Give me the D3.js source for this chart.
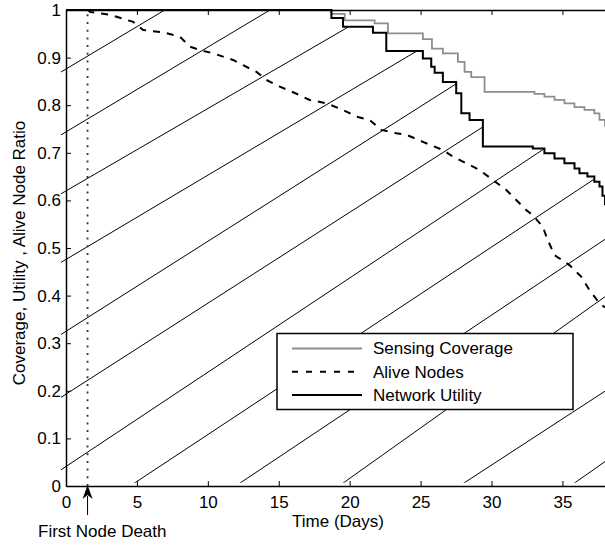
<!DOCTYPE html>
<html>
<head>
<meta charset="utf-8">
<script src="https://cdn.jsdelivr.net/npm/d3@7"></script>
<style>
  body { margin: 0; background: #fff; }
  svg { display: block; font-family: "Liberation Sans", Arial, Helvetica, sans-serif; }
</style>
</head>
<body>
<svg id="chart"></svg>
<script>
// Data (days, ratio)
const sensingDays   = [0, 18.71, 19.65, 21.76, 22.70, 25.16, 25.80, 26.57, 27.63, 28.10, 28.57, 29.51, 33.03, 33.73, 34.44, 35.14, 35.85, 36.55, 37.25, 37.61, 38];
const sensingValues = [1, 0.992, 0.978, 0.972, 0.951, 0.939, 0.919, 0.909, 0.891, 0.870, 0.859, 0.828, 0.824, 0.818, 0.811, 0.804, 0.796, 0.790, 0.783, 0.769, 0.755];

const utilityDays   = [0, 18.71, 19.53, 21.64, 22.58, 25.16, 25.75, 25.99, 26.57, 27.51, 27.87, 28.45, 29.39, 32.91, 33.73, 34.44, 35.14, 35.85, 36.2, 36.76, 37.25, 37.61, 37.82, 38];
const utilityValues = [1, 0.983, 0.965, 0.952, 0.914, 0.898, 0.881, 0.868, 0.849, 0.825, 0.783, 0.769, 0.713, 0.709, 0.699, 0.688, 0.678, 0.667, 0.657, 0.650, 0.639, 0.629, 0.61, 0.59];

const aliveDays   = [1.55, 1.69, 3.10, 4.74, 5.44, 6.85, 8.03, 8.73, 9.44, 10.37, 11.78, 12.49, 13.43, 14.13, 15.07, 16.25, 17.18, 18.36, 19.53, 20.47, 21.41, 22.23, 23.29, 23.99, 25.16, 26.57, 27.27, 28.22, 29.15, 30.09, 31.04, 31.74, 32.44, 32.91, 33.61, 33.96, 34.44, 35.49, 36.32, 36.90, 37.61, 38];
const aliveValues = [1, 0.996, 0.990, 0.975, 0.958, 0.953, 0.944, 0.923, 0.916, 0.909, 0.895, 0.884, 0.870, 0.853, 0.839, 0.824, 0.811, 0.804, 0.790, 0.776, 0.769, 0.748, 0.741, 0.738, 0.723, 0.706, 0.692, 0.678, 0.664, 0.643, 0.622, 0.601, 0.580, 0.569, 0.545, 0.517, 0.485, 0.464, 0.440, 0.412, 0.384, 0.375];

// hatch under the utility curve: value at day 0 and rise per day of each line
const hatchIntercepts = [0.876, 0.744, 0.620, 0.476, 0.325, 0.193, 0.041, -0.089, -0.238, -0.408, -0.538, -0.743];
const hatchSlopes     = [0.0178, 0.0178, 0.0173, 0.0177, 0.0189, 0.0191, 0.0198, 0.0197, 0.0199, 0.0212, 0.0194, 0.0209];

const firstDeathDay = 1.52;

const xTicks = [0, 5, 10, 15, 20, 25, 30, 35];
const yTicks = [0, 0.1, 0.2, 0.3, 0.4, 0.5, 0.6, 0.7, 0.8, 0.9, 1];
const legendLabels = ["Sensing Coverage", "Alive Nodes", "Network Utility"];

// layout
var width = 605, height = 546;
var svg = d3.select("#chart").attr("width", width).attr("height", height);

const x = d3.scaleLinear().domain([0, 38]).range([66, 605]);
const y = d3.scaleLinear().domain([0, 1]).range([486, 10]);

const zip = (a, b) => a.map((d, i) => [d, b[i]]);
const sensing = zip(sensingDays, sensingValues);
const utility = zip(utilityDays, utilityValues);
const alive = zip(aliveDays, aliveValues);

// clip for the hatching
const defs = svg.append("defs");
const clip = defs.append("clipPath").attr("id", "under-utility");
clip.append("path")
    .attr("d", d3.area()
        .curve(d3.curveStepAfter)
        .x(d => x(d[0]))
        .y0(y(0.007))
        .y1(d => y(d[1]))(utility));
clip.append("rect")
    .attr("x", x(0) - 5).attr("y", y(1))
    .attr("width", 5).attr("height", y(0.007) - y(1));

svg.append("g")
    .attr("class", "hatch")
    .attr("clip-path", "url(#under-utility)")
  .selectAll("line")
  .data(hatchIntercepts)
  .join("line")
    .attr("x1", x(-0.5))
    .attr("y1", (b, i) => y(b + hatchSlopes[i] * -0.5))
    .attr("x2", x(38))
    .attr("y2", (b, i) => y(b + hatchSlopes[i] * 38))
    .attr("stroke", "#000")
    .attr("stroke-width", 1);

// first node death marker
svg.append("line")
    .attr("x1", x(firstDeathDay)).attr("x2", x(firstDeathDay))
    .attr("y1", y(0)).attr("y2", y(1))
    .attr("stroke", "#333")
    .attr("stroke-width", 1.8)
    .attr("stroke-dasharray", "2,5.7");

// curves
svg.append("path")
    .datum(sensing)
    .attr("fill", "none")
    .attr("stroke", "#8e8e8e")
    .attr("stroke-width", 1.8)
    .attr("d", d3.line().curve(d3.curveStepAfter).x(d => x(d[0])).y(d => y(d[1])));

svg.append("path")
    .datum(alive)
    .attr("fill", "none")
    .attr("stroke", "#000")
    .attr("stroke-width", 2)
    .attr("stroke-dasharray", "7,7")
    .attr("d", d3.line().x(d => x(d[0])).y(d => y(d[1])));

svg.append("path")
    .datum(utility)
    .attr("fill", "none")
    .attr("stroke", "#000")
    .attr("stroke-width", 2)
    .attr("d", d3.line().curve(d3.curveStepAfter).x(d => x(d[0])).y(d => y(d[1])));

// axes
const fontSize = "17px";

svg.append("g")
    .attr("transform", `translate(0,${y(0)})`)
    .call(d3.axisBottom(x).tickValues(xTicks).tickSizeInner(-5).tickSizeOuter(0).tickPadding(10));

svg.append("g")
    .attr("transform", `translate(0,${y(1)})`)
    .call(d3.axisTop(x).tickValues(xTicks).tickSizeInner(-5).tickSizeOuter(0).tickFormat(""));

svg.append("g")
    .attr("transform", `translate(${x(0)},0)`)
    .call(d3.axisLeft(y).tickValues(yTicks).tickSizeInner(-5).tickSizeOuter(0).tickPadding(5)
        .tickFormat(d3.format("~g")));

svg.selectAll(".domain").attr("stroke", "#000").attr("stroke-width", 1.5);
svg.selectAll(".tick line").attr("stroke", "#000");
svg.selectAll(".tick text").attr("fill", "#000").style("font-size", fontSize);
svg.selectAll("g").filter(function () { return this.getAttribute("font-family"); })
    .attr("font-family", null).attr("font-size", null);

// axis titles
svg.append("text")
    .attr("x", 338).attr("y", 527)
    .attr("text-anchor", "middle")
    .style("font-size", fontSize)
    .text("Time (Days)");

svg.append("text")
    .attr("transform", "translate(25,253) rotate(-90)")
    .attr("text-anchor", "middle")
    .style("font-size", fontSize)
    .text("Coverage, Utility , Alive Node Ratio");

// arrow + annotation
const ax = x(firstDeathDay);
svg.append("line")
    .attr("x1", ax).attr("x2", ax)
    .attr("y1", 496).attr("y2", 515)
    .attr("stroke", "#000").attr("stroke-width", 1);
svg.append("path")
    .attr("d", `M${ax},${y(0) - 1} L${ax + 5},${y(0) + 13} L${ax},${y(0) + 9} L${ax - 5},${y(0) + 13} Z`)
    .attr("fill", "#000");
svg.append("text")
    .attr("x", 38).attr("y", 537)
    .style("font-size", fontSize)
    .text("First Node Death");

// legend
const legend = svg.append("g").attr("transform", "translate(277,333.5)");
legend.append("rect")
    .attr("width", 296).attr("height", 76)
    .attr("fill", "#fff").attr("stroke", "#000").attr("stroke-width", 1.5);

const legendStyles = [
  { stroke: "#8e8e8e", dash: null, w: 1.8 },
  { stroke: "#000", dash: "6,8", w: 2 },
  { stroke: "#000", dash: null, w: 2 }
];

const rows = legend.selectAll(".row")
    .data(legendLabels)
    .join("g")
    .attr("class", "row")
    .attr("transform", (d, i) => `translate(0,${15 + i * 23.3})`);

rows.append("line")
    .attr("x1", 15).attr("x2", 85)
    .attr("stroke", (d, i) => legendStyles[i].stroke)
    .attr("stroke-width", (d, i) => legendStyles[i].w)
    .attr("stroke-dasharray", (d, i) => legendStyles[i].dash);

rows.append("text")
    .attr("x", 96)
    .attr("dy", "0.35em")
    .style("font-size", fontSize)
    .text(d => d);
</script>
</body>
</html>
